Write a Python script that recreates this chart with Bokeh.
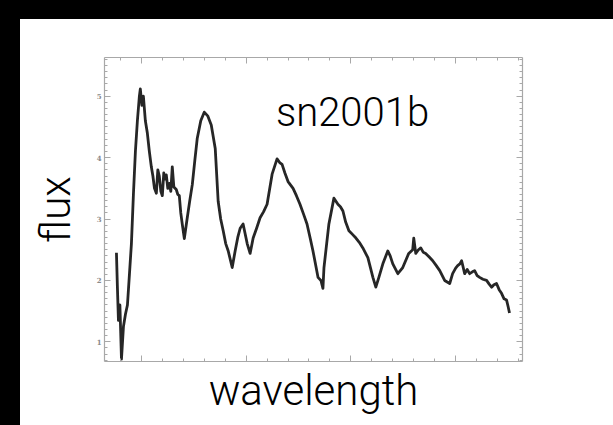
from bokeh.plotting import figure
from bokeh.models import Range1d, LinearAxis, SingleIntervalTicker, Label
from bokeh.embed import file_html
from bokeh.resources import INLINE

# spectrum (wavelength in Angstrom, relative flux)
wavelength = [3762, 3771, 3781, 3795, 3810, 3829, 3848, 3867, 3886, 3905, 3924, 3943,
              3962, 3981, 3990, 4005, 4019, 4038, 4057, 4076, 4095, 4110, 4125, 4143,
              4157, 4171, 4186, 4200, 4214, 4228, 4238, 4252, 4267, 4281, 4295, 4310,
              4333, 4348, 4362, 4376, 4390, 4410, 4438, 4462, 4486, 4510, 4533, 4567,
              4600, 4633, 4667, 4705, 4733, 4757, 4781, 4805, 4829, 4867, 4895, 4920,
              4943, 4971, 5010, 5038, 5067, 5100, 5133, 5167, 5200, 5248, 5295, 5320,
              5343, 5370, 5400, 5448, 5480, 5514, 5548, 5581, 5610, 5638, 5686, 5714,
              5733, 5743, 5790, 5838, 5876, 5900, 5924, 5950, 5981, 6015, 6048, 6080,
              6114, 6162, 6210, 6238, 6267, 6305, 6352, 6375, 6400, 6448, 6495, 6552,
              6590, 6600, 6619, 6645, 6667, 6690, 6714, 6748, 6781, 6815, 6848, 6895,
              6943, 6971, 7000, 7019, 7040, 7057, 7086, 7110, 7133, 7160, 7181, 7205,
              7229, 7260, 7295, 7320, 7343, 7365, 7390, 7415, 7438, 7462, 7486, 7500,
              7514]
flux = [2.45, 1.90, 1.35, 1.60, 0.72, 1.25, 1.45, 1.60, 2.10, 2.60, 3.40, 4.10,
        4.60, 5.00, 5.12, 4.85, 5.00, 4.60, 4.40, 4.10, 3.85, 3.70, 3.50, 3.42,
        3.80, 3.70, 3.45, 3.38, 3.75, 3.65, 3.72, 3.50, 3.58, 3.45, 3.85, 3.52,
        3.48, 3.40, 3.38, 3.10, 2.92, 2.68, 3.02, 3.30, 3.56, 3.95, 4.31, 4.60,
        4.74, 4.68, 4.53, 4.15, 3.29, 3.00, 2.81, 2.60, 2.48, 2.21, 2.48, 2.70,
        2.85, 2.92, 2.60, 2.44, 2.69, 2.85, 3.02, 3.12, 3.24, 3.73, 3.98, 3.92,
        3.89, 3.75, 3.61, 3.50, 3.38, 3.24, 3.08, 2.92, 2.70, 2.48, 2.05, 2.00,
        1.87, 2.21, 2.92, 3.34, 3.24, 3.20, 3.13, 2.95, 2.81, 2.75, 2.69, 2.62,
        2.53, 2.37, 2.05, 1.89, 2.05, 2.27, 2.48, 2.40, 2.27, 2.11, 2.21, 2.44,
        2.50, 2.69, 2.44, 2.50, 2.53, 2.46, 2.44, 2.38, 2.32, 2.24, 2.16, 2.00,
        1.95, 2.11, 2.20, 2.24, 2.27, 2.32, 2.11, 2.18, 2.11, 2.14, 2.16, 2.08,
        2.05, 2.02, 2.00, 1.94, 1.89, 1.93, 1.95, 1.85, 1.79, 1.70, 1.68, 1.58,
        1.47]

x_start, x_end = 3648, 7638
y_start, y_end = 0.68, 5.63
title_text = "sn2001b"
x_label = "wavelength"
y_label = "flux"

p = figure(width=605, height=417, output_backend="svg", toolbar_location=None,
           x_range=Range1d(x_start, x_end), y_range=Range1d(y_start, y_end),
           x_axis_location=None, y_axis_location=None,
           min_border_left=104, min_border_right=83, min_border_top=57, min_border_bottom=55)
p.styles = {"box-shadow": ("inset 20px 19px 0 0 #000000, "
                           "-395px 215px 0 -190px #000000, "
                           "300px -208px 0 -190px #000000"),
            "background": "#ffffff"}
p.border_fill_color = None
p.background_fill_color = "#ffffff"
p.outline_line_color = None
p.xgrid.visible = False
p.ygrid.visible = False

axis_color = "#a8a8a8"
label_font = "Roboto Light"

def style_axis(ax, show_labels):
    ax.axis_line_color = axis_color
    ax.axis_line_width = 1.2
    ax.major_tick_line_color = axis_color
    ax.minor_tick_line_color = axis_color
    ax.major_tick_in = 6
    ax.major_tick_out = 0
    ax.minor_tick_in = 3
    ax.minor_tick_out = 0
    if show_labels:
        ax.major_label_text_font = "DejaVu Serif"
        ax.major_label_text_font_size = "7px"
        ax.major_label_text_font_style = "bold"
        ax.major_label_text_color = "#8a8a8a"
        ax.major_label_standoff = 3
    else:
        ax.major_label_text_color = None
        ax.major_label_text_font_size = "1px"
        ax.major_label_standoff = 0

left = LinearAxis(ticker=SingleIntervalTicker(interval=1, num_minor_ticks=10))
right = LinearAxis(ticker=SingleIntervalTicker(interval=1, num_minor_ticks=10))
below = LinearAxis(ticker=SingleIntervalTicker(interval=1000, num_minor_ticks=5))
above = LinearAxis(ticker=SingleIntervalTicker(interval=1000, num_minor_ticks=5))
style_axis(left, True)
style_axis(right, False)
style_axis(below, False)
style_axis(above, False)

left.axis_label = y_label
left.axis_label_text_font = label_font
left.axis_label_text_font_size = "42px"
left.axis_label_text_font_style = "normal"
left.axis_label_text_color = "#000000"
left.axis_label_standoff = 14

below.axis_label = x_label
below.axis_label_text_font = label_font
below.axis_label_text_font_size = "42px"
below.axis_label_text_font_style = "normal"
below.axis_label_text_color = "#000000"
below.axis_label_standoff = 4

p.add_layout(left, "left")
p.add_layout(right, "right")
p.add_layout(below, "below")
p.add_layout(above, "above")

p.line(wavelength, flux, line_color="#141414", line_width=2.8, line_join="round", line_alpha=0.92)

p.add_layout(Label(x=248, y=249, x_units="screen", y_units="screen", text=title_text,
                   text_font=label_font, text_font_size="40px", text_color="#000000",
                   text_align="center", text_baseline="alphabetic"))

open("out.html", "w").write(file_html(p, INLINE))
